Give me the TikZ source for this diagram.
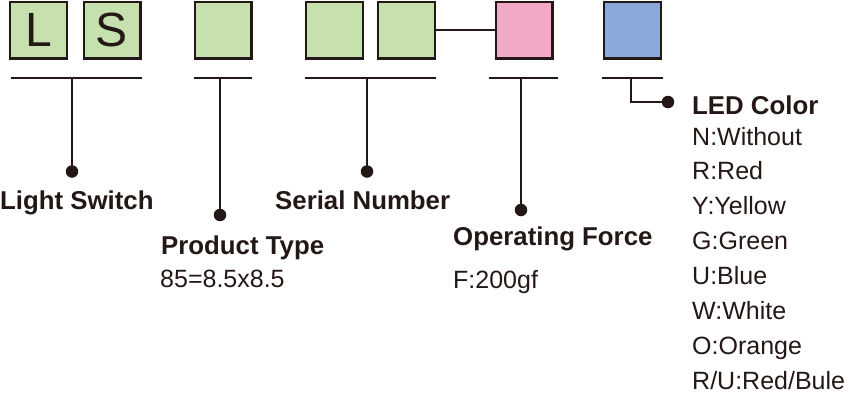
\documentclass[tikz,border=0pt]{standalone}
\usepackage{fontspec}
\setmainfont{Liberation Sans}
\definecolor{ink}{HTML}{231815}
\definecolor{boxgreen}{HTML}{C6E0AE}
\definecolor{boxpink}{HTML}{F2A9C8}
\definecolor{boxblue}{HTML}{8AA9D8}
\tikzset{
  codebox/.style={draw=ink, line width=2.2pt, minimum size=56.8pt, inner sep=0pt, font=\fontsize{48}{48}\selectfont, text=ink},
  rule/.style={draw=ink, line width=2pt},
  dotnode/.style={circle, fill=ink, inner sep=0pt, minimum size=12.5pt},
  boldlabel/.style={anchor=base west, inner sep=0pt, text=ink, font=\fontsize{25.8}{25.8}\selectfont\bfseries},
  plainlabel/.style={anchor=base west, inner sep=0pt, text=ink, font=\fontsize{25}{25}\selectfont},
}
\begin{document}
\begin{tikzpicture}[x=1pt, y=-1pt]
\useasboundingbox (0,0) rectangle (851,400);
% boxes
\node[codebox, fill=boxgreen] (bL) at (38.5,30) {L};
\node[codebox, fill=boxgreen] (bS) at (112,30) {S};
\node[codebox, fill=boxgreen] (bP) at (223,30) {};
\node[codebox, fill=boxgreen] (bN1) at (334.5,30) {};
\node[codebox, fill=boxgreen] (bN2) at (406.5,30) {};
\node[codebox, fill=boxpink] (bF) at (524,30) {};
\node[codebox, fill=boxblue] (bC) at (632.5,30) {};
\draw[rule] (bN2.east) -- (bF.west);
% underline coordinates
\coordinate (u1a) at (11,77.5); \coordinate (u1b) at (141.5,77.5); \coordinate (u1m) at (72,77.5);
\coordinate (u2a) at (194,77.5); \coordinate (u2b) at (252,77.5); \coordinate (u2m) at (220,77.5);
\coordinate (u3a) at (305,77.5); \coordinate (u3b) at (436,77.5); \coordinate (u3m) at (367,77.5);
\coordinate (u4a) at (489,77.5); \coordinate (u4b) at (558,77.5); \coordinate (u4m) at (521,77.5);
\coordinate (u5a) at (602,77.5); \coordinate (u5b) at (663,77.5); \coordinate (u5m) at (631,77.5);
\draw[rule] (u1a) -- (u1b);
\draw[rule] (u2a) -- (u2b);
\draw[rule] (u3a) -- (u3b);
\draw[rule] (u4a) -- (u4b);
\draw[rule] (u5a) -- (u5b);
% dots
\node[dotnode] (d1) at (72,171.5) {};
\node[dotnode] (d2) at (220,215) {};
\node[dotnode] (d3) at (367,171.5) {};
\node[dotnode] (d4) at (521,210) {};
\node[dotnode] (d5) at (668,102) {};
\draw[rule] (u1m) -- (d1.center);
\draw[rule] (u2m) -- (d2.center);
\draw[rule] (u3m) -- (d3.center);
\draw[rule] (u4m) -- (d4.center);
\draw[rule] (u5m) |- (d5.center);
% labels
\node[boldlabel] (t1) at (0,209) {Light Switch};
\node[boldlabel] (t2) at (161,254.5) {Product Type};
\node[plainlabel] (t2v) at (160,287) {85=8.5x8.5};
\node[boldlabel] (t3) at (275,209) {Serial Number};
\node[boldlabel] (t4) at (453,245) {Operating Force};
\node[plainlabel] (t4v) at (453,288) {F:200gf};
\node[boldlabel] (t5) at (692,114) {LED Color};
\foreach \txt [count=\i from 0] in {N:Without,R:Red,Y:Yellow,G:Green,U:Blue,W:White,O:Orange,R/U:Red/Bule}
  \node[plainlabel] (c\i) at (692,145+34.9*\i) {\txt};
\end{tikzpicture}
\end{document}
